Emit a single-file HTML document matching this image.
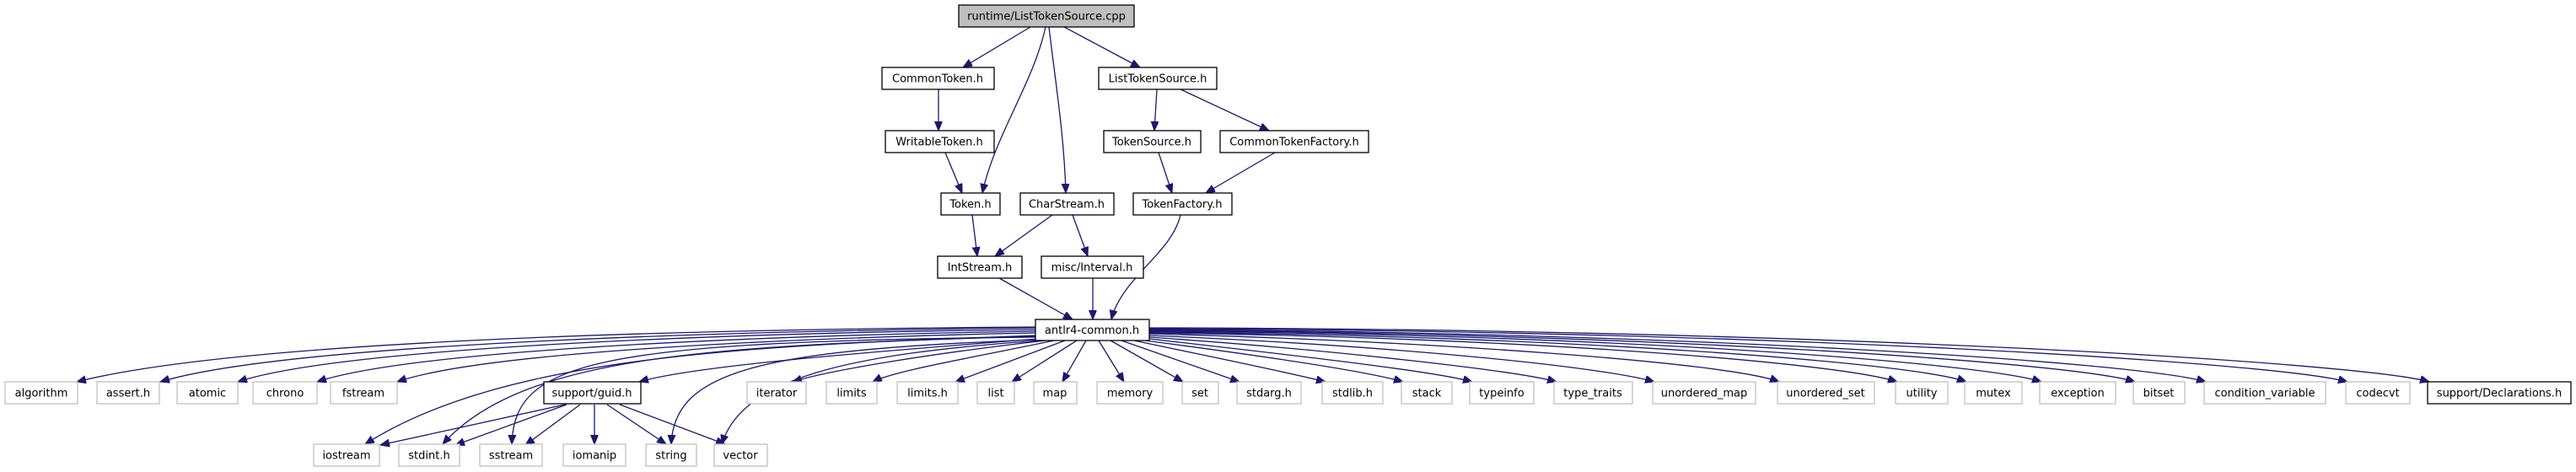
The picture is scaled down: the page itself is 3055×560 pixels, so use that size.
<!DOCTYPE html>
<html><head><meta charset="utf-8"><style>
html,body{margin:0;padding:0;background:#fff;}
svg{display:block;}
text{font-family:"DejaVu Sans","Liberation Sans",sans-serif;font-size:13px;fill:#000;text-anchor:middle;}
.e{fill:none;stroke:#191970;stroke-width:1.3;marker-end:url(#a);}
.n{fill:#fff;stroke:#000;stroke-width:1.3;}
.g{fill:#fff;stroke:#bfbfbf;stroke-width:1.3;}
</style></head><body>
<svg width="3055" height="560" viewBox="0 0 3055 560" xmlns="http://www.w3.org/2000/svg">
<defs><marker id="a" markerUnits="userSpaceOnUse" markerWidth="12" markerHeight="10" refX="11" refY="4.5" orient="auto"><path d="M0,0 L11,4.5 L0,9 z" fill="#191970" stroke="#191970"/></marker></defs>

<!-- upper edges -->
<path class="e" d="M1222 32 L1142 80"/>
<path class="e" d="M1240 32 C1225 100 1180 160 1165 229"/>
<path class="e" d="M1244 32 C1252 100 1262 160 1264 229"/>
<path class="e" d="M1262 32 L1352 80"/>
<path class="e" d="M1113 106 L1113 155"/>
<path class="e" d="M1372 106 L1369 155"/>
<path class="e" d="M1400 106 L1505 155"/>
<path class="e" d="M1121 181 L1141 229"/>
<path class="e" d="M1374 181 L1390 229"/>
<path class="e" d="M1512 181 L1430 229"/>
<path class="e" d="M1153 255 L1159 304"/>
<path class="e" d="M1248 255 L1180 304"/>
<path class="e" d="M1272 255 L1290 304"/>
<path class="e" d="M1185 330 L1272 379"/>
<path class="e" d="M1296 330 L1296 379"/>
<path class="e" d="M1400 255 C1390 300 1330 330 1318 379"/>

<!-- antlr4-common edges -->
<path class="e" d="M1228 388 C900 390 300 400 91 453"/>
<path class="e" d="M1228 389 C920 392 350 405 190 453"/>
<path class="e" d="M1228 391 C940 394 420 408 282 453"/>
<path class="e" d="M1228 393 C960 397 500 412 376 453"/>
<path class="e" d="M1228 395 C980 400 580 415 471 453"/>
<path class="e" d="M1228 398 C900 410 600 420 433 527"/>
<path class="e" d="M1228 399 C850 410 620 420 525 527"/>
<path class="e" d="M1228 400 C700 405 610 430 607 527"/>
<path class="e" d="M1231 402 C1000 420 820 435 758 453"/>
<path class="e" d="M1232 403 C900 415 800 440 796 527"/>
<path class="e" d="M1235 404 C1000 420 880 450 856 527"/>
<path class="e" d="M1240 404 C1100 420 980 440 940 453"/>
<path class="e" d="M1250 404 C1150 425 1060 440 1035 453"/>
<path class="e" d="M1263 404 L1133 453"/>
<path class="e" d="M1277 404 L1200 453"/>
<path class="e" d="M1288 404 L1260 453"/>
<path class="e" d="M1303 404 L1333 453"/>
<path class="e" d="M1317 404 L1403 453"/>
<path class="e" d="M1330 404 L1470 453"/>
<path class="e" d="M1345 404 C1420 420 1520 440 1572 453"/>
<path class="e" d="M1358 404 C1480 420 1620 440 1664 453"/>
<path class="e" d="M1363 402 C1520 420 1700 440 1746 453"/>
<path class="e" d="M1363 400 C1580 415 1800 440 1846 453"/>
<path class="e" d="M1363 398 C1650 410 1900 435 1962 453"/>
<path class="e" d="M1363 396 C1700 405 2050 430 2110 453"/>
<path class="e" d="M1363 395 C1800 400 2180 430 2250 453"/>
<path class="e" d="M1363 394 C1850 398 2270 430 2332 453"/>
<path class="e" d="M1363 393 C1900 396 2350 430 2421 453"/>
<path class="e" d="M1363 392 C1950 395 2460 430 2532 453"/>
<path class="e" d="M1363 391 C2000 394 2540 430 2616 453"/>
<path class="e" d="M1363 390 C2100 392 2700 430 2784 453"/>
<path class="e" d="M1363 389 C2150 390 2800 430 2881 453"/>

<!-- guid edges -->
<path class="e" d="M670 480 L451 528"/>
<path class="e" d="M672 480 L540 528"/>
<path class="e" d="M688 480 L623 528"/>
<path class="e" d="M705 480 L705 527"/>
<path class="e" d="M720 480 L790 527"/>
<path class="e" d="M735 480 L860 527"/>

<!-- nodes -->
<rect x="1137" y="6" width="208" height="26" fill="#bfbfbf" stroke="#000" stroke-width="1.3"/><text x="1241" y="23.5">runtime/ListTokenSource.cpp</text>
<rect class="n" x="1046" y="80" width="133" height="26"/><text x="1112" y="97.5">CommonToken.h</text>
<rect class="n" x="1303" y="80" width="140" height="26"/><text x="1373" y="97.5">ListTokenSource.h</text>
<rect class="n" x="1050" y="155" width="129" height="26"/><text x="1114" y="172.5">WritableToken.h</text>
<rect class="n" x="1309" y="155" width="115" height="26"/><text x="1366" y="172.5">TokenSource.h</text>
<rect class="n" x="1447" y="155" width="176" height="26"/><text x="1535" y="172.5">CommonTokenFactory.h</text>
<rect class="n" x="1116" y="229" width="70" height="26"/><text x="1151" y="246.5">Token.h</text>
<rect class="n" x="1210" y="229" width="111" height="26"/><text x="1265" y="246.5">CharStream.h</text>
<rect class="n" x="1344" y="229" width="117" height="26"/><text x="1402" y="246.5">TokenFactory.h</text>
<rect class="n" x="1112" y="304" width="100" height="26"/><text x="1162" y="321.5">IntStream.h</text>
<rect class="n" x="1235" y="304" width="121" height="26"/><text x="1295" y="321.5">misc/Interval.h</text>
<rect class="n" x="1228" y="379" width="135" height="25"/><text x="1295" y="396">antlr4-common.h</text>

<g>
<rect class="g" x="6" y="453" width="86" height="26"/><text x="49" y="470.5">algorithm</text>
<rect class="g" x="115" y="453" width="74" height="26"/><text x="152" y="470.5">assert.h</text>
<rect class="g" x="210" y="453" width="72" height="26"/><text x="246" y="470.5">atomic</text>
<rect class="g" x="300" y="453" width="76" height="26"/><text x="338" y="470.5">chrono</text>
<rect class="g" x="392" y="453" width="79" height="26"/><text x="431" y="470.5">fstream</text>
<rect class="n" x="645" y="453" width="115" height="26"/><text x="702" y="470.5">support/guid.h</text>
<rect class="g" x="886" y="453" width="70" height="26"/><text x="921" y="470.5">iterator</text>
<rect class="g" x="980" y="453" width="60" height="26"/><text x="1010" y="470.5">limits</text>
<rect class="g" x="1064" y="453" width="72" height="26"/><text x="1100" y="470.5">limits.h</text>
<rect class="g" x="1159" y="453" width="44" height="26"/><text x="1181" y="470.5">list</text>
<rect class="g" x="1226" y="453" width="51" height="26"/><text x="1251" y="470.5">map</text>
<rect class="g" x="1301" y="453" width="78" height="26"/><text x="1340" y="470.5">memory</text>
<rect class="g" x="1402" y="453" width="43" height="26"/><text x="1423" y="470.5">set</text>
<rect class="g" x="1467" y="453" width="76" height="26"/><text x="1505" y="470.5">stdarg.h</text>
<rect class="g" x="1568" y="453" width="72" height="26"/><text x="1604" y="470.5">stdlib.h</text>
<rect class="g" x="1662" y="453" width="60" height="26"/><text x="1692" y="470.5">stack</text>
<rect class="g" x="1743" y="453" width="76" height="26"/><text x="1781" y="470.5">typeinfo</text>
<rect class="g" x="1843" y="453" width="93" height="26"/><text x="1889" y="470.5">type_traits</text>
<rect class="g" x="1960" y="453" width="122" height="26"/><text x="2021" y="470.5">unordered_map</text>
<rect class="g" x="2108" y="453" width="115" height="26"/><text x="2165" y="470.5">unordered_set</text>
<rect class="g" x="2248" y="453" width="62" height="26"/><text x="2279" y="470.5">utility</text>
<rect class="g" x="2330" y="453" width="68" height="26"/><text x="2364" y="470.5">mutex</text>
<rect class="g" x="2419" y="453" width="90" height="26"/><text x="2464" y="470.5">exception</text>
<rect class="g" x="2530" y="453" width="61" height="26"/><text x="2560" y="470.5">bitset</text>
<rect class="g" x="2614" y="453" width="144" height="26"/><text x="2686" y="470.5">condition_variable</text>
<rect class="g" x="2782" y="453" width="76" height="26"/><text x="2820" y="470.5">codecvt</text>
<rect class="n" x="2879" y="453" width="170" height="26"/><text x="2964" y="470.5">support/Declarations.h</text>
</g>
<g>
<rect class="g" x="372" y="527" width="78" height="26"/><text x="411" y="544.5">iostream</text>
<rect class="g" x="473" y="527" width="72" height="26"/><text x="509" y="544.5">stdint.h</text>
<rect class="g" x="569" y="527" width="74" height="26"/><text x="606" y="544.5">sstream</text>
<rect class="g" x="668" y="527" width="74" height="26"/><text x="705" y="544.5">iomanip</text>
<rect class="g" x="766" y="527" width="60" height="26"/><text x="796" y="544.5">string</text>
<rect class="g" x="847" y="527" width="63" height="26"/><text x="878" y="544.5">vector</text>
</g>
</svg>
</body></html>
